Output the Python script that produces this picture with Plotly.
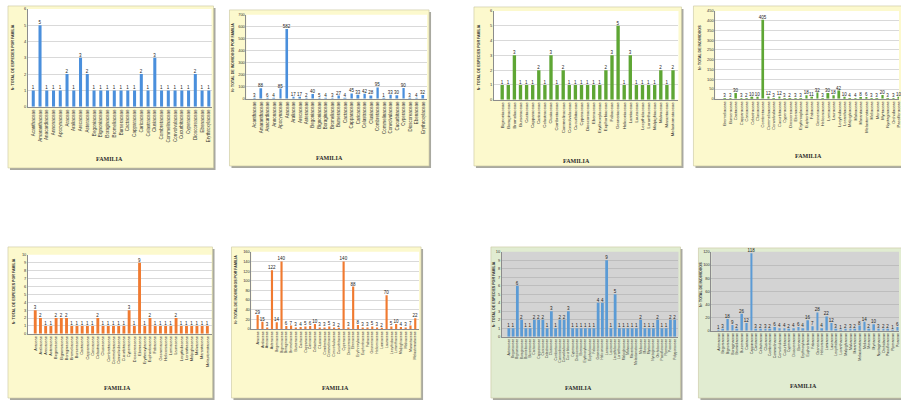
import plotly.graph_objects as go

W, H = 901, 402

# Plant families used as category labels
families = [
    "Acanthaceae", "Amaranthaceae", "Anacardiaceae", "Annonaceae", "Apocynaceae",
    "Araceae", "Araliaceae", "Arecaceae", "Asteraceae", "Begoniaceae",
    "Bignoniaceae", "Boraginaceae", "Bromeliaceae", "Burseraceae", "Cactaceae",
    "Capparaceae", "Caricaceae", "Celastraceae", "Clusiaceae", "Combretaceae",
    "Commelinaceae", "Convolvulaceae", "Cucurbitaceae", "Cyperaceae", "Dioscoreaceae",
    "Ebenaceae", "Erythroxylaceae", "Euphorbiaceae", "Fabaceae", "Gesneriaceae",
    "Heliconiaceae", "Lamiaceae", "Lauraceae", "Lecythidaceae", "Loranthaceae",
    "Malpighiaceae", "Malvaceae", "Marantaceae", "Melastomataceae", "Meliaceae",
    "Moraceae", "Myrtaceae", "Nyctaginaceae", "Orchidaceae", "Passifloraceae",
    "Piperaceae", "Poaceae", "Polygonaceae", "Rubiaceae", "Rutaceae",
    "Sapindaceae", "Sapotaceae", "Solanaceae", "Urticaceae", "Verbenaceae",
]

cats_a = families[0:27]
cats_b = families[10:39]
cats_c = families[12:48]
cats_d = families[5:39]
cats_e = families[8:48]

especies_a = [1, 5, 1, 1, 1, 2, 1, 3, 2, 1, 1, 1, 1, 1, 1, 1, 2, 1, 3, 1, 1, 1, 1, 1, 2, 1, 1]
individuos_a = [3, 88, 6, 4, 85, 582, 17, 17, 2, 40, 5, 4, 3, 27, 4, 45, 33, 42, 28, 95,
                1, 33, 30, 90, 3, 4, 32]
especies_b = [1, 1, 3, 1, 1, 1, 2, 1, 3, 1, 2, 1, 1, 1, 1, 1, 1, 2, 3, 5, 1, 3, 1, 1, 1, 1, 2, 1, 2]
individuos_c = [3, 3, 30, 3, 2, 10, 10, 405, 12, 3, 12, 3, 2, 3, 3, 18, 11, 32, 3, 30,
                18, 42, 10, 4, 4, 8, 6, 3, 3, 20, 3, 3, 10, 5, 8, 4]
especies_d = [3, 2, 1, 1, 2, 2, 2, 1, 1, 1, 1, 1, 2, 1, 1, 1, 1, 1, 3, 1, 9, 1, 2, 1, 1, 1,
              1, 2, 1, 1, 1, 1, 1, 1]
individuos_d = [29, 15, 3, 122, 14, 140, 6, 7, 3, 4, 5, 6, 10, 3, 3, 5, 3, 2, 140, 3, 88, 8,
                3, 3, 5, 3, 2, 70, 5, 10, 4, 3, 7, 22]
especies_e = [1, 1, 6, 2, 1, 1, 2, 2, 2, 1, 3, 1, 2, 2, 3, 1, 1, 1, 1, 1, 1, 4, 4, 9, 1, 5,
              1, 1, 1, 1, 1, 2, 1, 1, 1, 2, 1, 1, 2, 2]
individuos_e = [1, 3, 18, 9, 2, 26, 12, 118, 3, 2, 3, 2, 6, 4, 4, 2, 4, 6, 4, 16, 7, 28, 4,
                22, 12, 3, 1, 2, 3, 2, 8, 14, 2, 10, 3, 2, 2, 1, 6, 3]

YT_ESP = "Nº TOTAL DE ESPECIES POR FAMILIA"
YT_IND = "Nº TOTAL DE INDIVIDUOS POR FAMILIA"

YELLOW = "#fcf9cd"
GREEN_BG = "#e1ecd1"

# one entry per chart: data, look and placement (pixels)
panels = [
    dict(cats=cats_a, vals=especies_a, color="#4a8fdc", ymax=6, dtick=1, ytitle=YT_ESP,
         box=(8, 214, 3, 167), plot=(28, 212, 6, 105), xr=(-0.79, 26.4), bw=0.45, tf=4.6,
         panel_bg=YELLOW, plot_bg="white", fam=(110, 158), yt=(13, 55)),
    dict(cats=cats_a, vals=individuos_a, color="#4a8fdc", ymax=700, dtick=100, ytitle=YT_IND,
         box=(230, 430, 7, 165), plot=(247, 428, 12, 97), xr=(-1.27, 26.6), bw=0.3, tf=4.5,
         panel_bg=YELLOW, plot_bg="white", fam=(330, 157), yt=(234, 55)),
    dict(cats=cats_b, vals=especies_b, color="#5ea634", ymax=6, dtick=1, ytitle=YT_ESP,
         box=(475, 683, 4, 165), plot=(495, 680, 8, 98), xr=(-1.36, 28.9), bw=0.55, tf=4.3,
         panel_bg=YELLOW, plot_bg="white", fam=(578, 160), yt=(480, 55)),
    dict(cats=cats_c, vals=individuos_c, color="#5ea634", ymax=450, dtick=50,
         ytitle="Nº TOTAL DE INDIVIDUOS",
         box=(695, 915, 3, 165), plot=(717, 901, 8, 97), xr=(-1.78, 32.0), bw=0.35, tf=4.0,
         panel_bg=YELLOW, plot_bg="white", fam=(810, 155), yt=(702, 45)),
    dict(cats=cats_d, vals=especies_d, color="#f07a30", ymax=10, dtick=1, ytitle=YT_ESP,
         box=(8, 213, 247, 400), plot=(28, 212, 255, 335), xr=(-1.4, 33.8), bw=0.55, tf=3.9,
         panel_bg=YELLOW, plot_bg="white", fam=(118, 390), yt=(14, 292)),
    dict(cats=cats_d, vals=individuos_d, color="#f07a30", ymax=160, dtick=20, ytitle=YT_IND,
         box=(232, 422, 247, 400), plot=(252, 420, 252, 330), xr=(-1.3, 33.8), bw=0.45, tf=3.6,
         panel_bg=YELLOW, plot_bg="white", fam=(336, 390), yt=(237, 290)),
    dict(cats=cats_e, vals=especies_e, color="#5b9bd5", ymax=10, dtick=1, ytitle=YT_ESP,
         box=(492, 682, 247, 400), plot=(503, 680, 252, 338), xr=(-1.64, 39.9), bw=0.65, tf=3.3,
         panel_bg=GREEN_BG, plot_bg="#d3d3d3", fam=(580, 390), yt=(495, 295)),
    dict(cats=cats_e, vals=individuos_e, color="#5b9bd5", ymax=120, dtick=20,
         ytitle="Nº TOTAL DE INDIVIDUOS",
         box=(700, 915, 248, 400), plot=(713, 901, 252, 332), xr=(-1.48, 38.3), bw=0.4, tf=3.5,
         panel_bg=GREEN_BG, plot_bg="#d3d3d3", fam=(805, 388), yt=(703, 285)),
]


def px(x):
    return x / W


def py(y):
    return 1 - y / H


fig = go.Figure()
shapes = []
annotations = []
layout = {}

for i, p in enumerate(panels, start=1):
    sfx = "" if i == 1 else str(i)
    xa, ya = "x" + sfx, "y" + sfx
    bx0, bx1, by0, by1 = p["box"]
    lx0, lx1, ly0, ly1 = p["plot"]

    # chart frame with a soft shadow
    shapes.append(dict(type="rect", xref="paper", yref="paper", layer="below",
                       x0=px(bx0 + 2), x1=px(bx1 + 2), y0=py(by1 + 2), y1=py(by0 + 2),
                       fillcolor="#a9a9a0", line=dict(width=0)))
    shapes.append(dict(type="rect", xref="paper", yref="paper", layer="below",
                       x0=px(bx0), x1=px(bx1), y0=py(by1), y1=py(by0),
                       fillcolor=p["panel_bg"], line=dict(color="#c9c6a0", width=0.6)))
    # plot area fill
    shapes.append(dict(type="rect", xref=xa + " domain", yref=ya + " domain", layer="below",
                       x0=0, x1=1, y0=0, y1=1, fillcolor=p["plot_bg"], line=dict(width=0)))

    grid = "#bdbdbd" if p["plot_bg"] != "white" else "#d9d9d9"
    layout["xaxis" + sfx] = dict(
        domain=[px(lx0), min(1.0, px(lx1))], anchor=ya, type="category",
        categoryorder="array", categoryarray=p["cats"], range=list(p["xr"]),
        tickmode="linear", tick0=0, dtick=1,
        tickangle=-90, tickfont=dict(size=p["tf"], family="Liberation Sans", color="#333333"),
        showgrid=False, showline=True, linecolor="#8c8c8c", linewidth=0.6,
        ticks="", ticklen=0, fixedrange=True,
    )
    layout["yaxis" + sfx] = dict(
        domain=[py(ly1), py(ly0)], anchor=xa, range=[0, p["ymax"]], dtick=p["dtick"],
        tickfont=dict(size=4, family="Liberation Sans", color="#333333"),
        showgrid=True, gridcolor=grid, gridwidth=0.8, zeroline=False,
        showline=True, linecolor="#8c8c8c", linewidth=0.6, ticks="", fixedrange=True,
    )

    fig.add_trace(go.Bar(
        x=p["cats"], y=p["vals"], xaxis=xa, yaxis=ya, width=p["bw"],
        marker=dict(color=p["color"], line=dict(width=0)),
        text=[str(v) for v in p["vals"]], textposition="outside",
        textfont=dict(size=4.5, family="Liberation Sans", color="#222222"),
        constraintext="none", cliponaxis=False, showlegend=False,
    ))

    fx, fy = p["fam"]
    annotations.append(dict(text="<b>FAMILIA</b>", x=px(fx), y=py(fy), xref="paper",
                            yref="paper", showarrow=False, xanchor="center", yanchor="middle",
                            font=dict(size=6, family="Liberation Serif", color="#2b2b2b")))
    tx, ty = p["yt"]
    annotations.append(dict(text="<b>" + p["ytitle"] + "</b>", x=px(tx), y=py(ty),
                            xref="paper", yref="paper", showarrow=False, textangle=-90,
                            xanchor="center", yanchor="middle",
                            font=dict(size=3.6, family="Liberation Sans", color="#2b2b2b")))

fig.update_layout(
    width=W, height=H, margin=dict(l=0, r=0, t=0, b=0),
    paper_bgcolor="white", plot_bgcolor="rgba(0,0,0,0)",
    shapes=shapes, annotations=annotations, bargap=0.5, **layout,
)

fig.write_html("out.html")
